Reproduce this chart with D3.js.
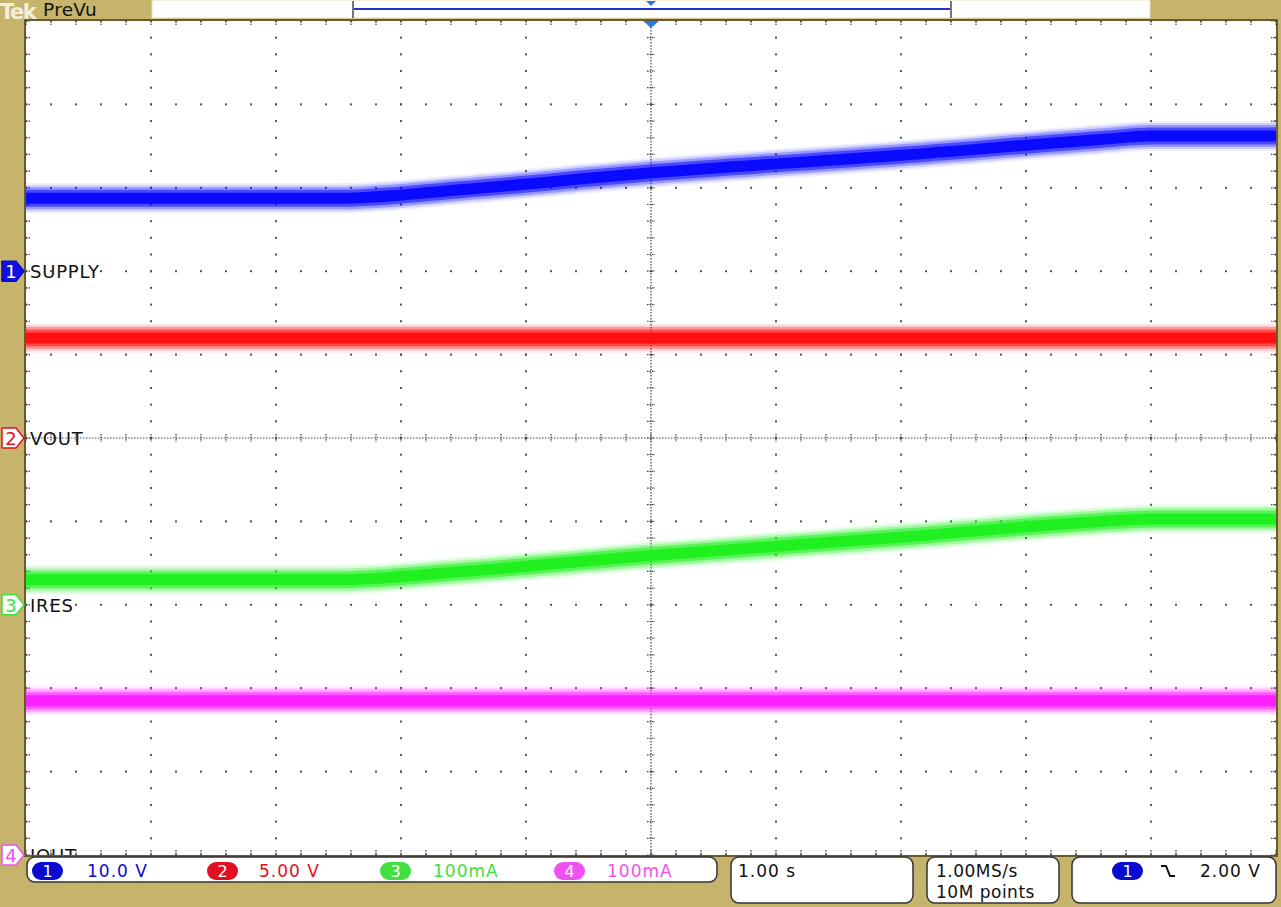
<!DOCTYPE html>
<html><head><meta charset="utf-8">
<script src="https://cdn.jsdelivr.net/npm/d3@7"></script>
<style>
body{margin:0;background:#C6B46D;}
svg{display:block;}
text{font-family:"DejaVu Sans",Verdana,sans-serif;}
</style>
</head><body><svg id="c" width="1281" height="907"></svg>
<script>
// ---- data ----
const timeBreaks = [-5, -2.5, -1.5, 0, 2, 3.6, 4.0, 5];          // seconds
const supplyVolts = [8.75, 8.75, 9.8, 11.8, 13.9, 15.8, 16.2, 16.2]; // CH1
const iresMilliamps = [30, 30, 40, 59, 81, 100, 103, 103];           // CH3
const flatTime = [-5, 5];
const voutVolts = [6.0, 6.0];                                         // CH2
const ioutMilliamps = [185, 185];                                     // CH4
const channelNames = ["SUPPLY", "VOUT", "IRES", "IOUT"];
const channelScaleLabels = ["10.0 V", "5.00 V", "100mA", "100mA"];
const unitsPerDiv = [10, 5, 100, 100];
const groundDiv = [2, 0, -2, -5];
const channelColors = ["#0a0aff", "#ff1010", "#20f020", "#ff20ff"];
const labelColors = ["#0a0ad0", "#e01020", "#40e040", "#f050f0"];
const timebaseLabel = "1.00 s";
const acqLabels = ["1.00MS/s", "10M points"];
const triggerLabel = "2.00 V";
const xDivs = 10, yDivs = 10;

// ---- layout ----
const svg = d3.select("#c");
const L = 26, R = 1276, T = 21, B = 855;
const x = d3.scaleLinear().domain([-xDivs/2, xDivs/2]).range([L, R]);
const y = d3.scaleLinear().domain([-yDivs/2, yDivs/2]).range([B, T]);

svg.append("rect").attr("width",1281).attr("height",907).attr("fill","#C6B46D");

// top bar
svg.append("text").attr("x",0).attr("y",19).attr("font-size",21).attr("font-weight","bold")
  .attr("fill","#f4eedc").attr("letter-spacing",-1.5).text("Tek");
svg.append("text").attr("x",43).attr("y",16).attr("font-size",18.5).attr("fill","#111").attr("letter-spacing",0.3).text("PreVu");
svg.append("rect").attr("x",152).attr("y",0).attr("width",998).attr("height",18).attr("fill","#fff")
  .attr("stroke","#e8e0b8").attr("stroke-width",1);
svg.append("line").attr("x1",353).attr("x2",951).attr("y1",9).attr("y2",9).attr("stroke","#2233cc").attr("stroke-width",2);
[353,951].forEach(xx=>svg.append("line").attr("x1",xx).attr("x2",xx).attr("y1",1).attr("y2",18).attr("stroke","#777").attr("stroke-width",2));
svg.append("path").attr("d",`M${x(0)-5},1 L${x(0)+5},1 L${x(0)},6 Z`).attr("fill","#2a7de0");

// plot area
svg.append("rect").attr("x",L-1).attr("y",T-1).attr("width",R-L+2).attr("height",B-T+2)
  .attr("fill","#fff").attr("stroke","#6b5a2a").attr("stroke-width",2);

const g = svg.append("g");
const dotCol = "#555";
const majX = d3.range(-xDivs/2, xDivs/2+0.001, 1);
const majY = d3.range(-yDivs/2, yDivs/2+0.001, 1);
const minX = d3.range(-xDivs/2, xDivs/2+0.001, 0.2);
const minY = d3.range(-yDivs/2, yDivs/2+0.001, 0.2);
majX.forEach(mx=>{ if (Math.abs(mx)<1e-6) return;
  minY.forEach(my=>g.append("rect").attr("x",x(mx)-1).attr("y",y(my)-1).attr("width",2).attr("height",2).attr("fill",dotCol));
});
majY.forEach(my=>{ if (Math.abs(my)<1e-6) return;
  minX.forEach(mx=>g.append("rect").attr("x",x(mx)-1).attr("y",y(my)-1).attr("width",2).attr("height",2).attr("fill",dotCol));
});
// center cross
g.append("line").attr("x1",L).attr("x2",R).attr("y1",y(0)).attr("y2",y(0)).attr("stroke","#444").attr("stroke-width",1.2).attr("stroke-dasharray","1.5,1.5");
g.append("line").attr("y1",T).attr("y2",B).attr("x1",x(0)).attr("x2",x(0)).attr("stroke","#444").attr("stroke-width",1.2).attr("stroke-dasharray","1.5,1.5");
minX.forEach(mx=>g.append("line").attr("x1",x(mx)).attr("x2",x(mx)).attr("y1",y(0)-4).attr("y2",y(0)+4).attr("stroke","#444").attr("stroke-width",1.2).attr("stroke-dasharray","1.5,1"));
minY.forEach(my=>g.append("line").attr("y1",y(my)).attr("y2",y(my)).attr("x1",x(0)-4).attr("x2",x(0)+4).attr("stroke","#444").attr("stroke-width",1.2).attr("stroke-dasharray","1.5,1"));
// edge ticks
minX.forEach(mx=>{
  g.append("line").attr("x1",x(mx)).attr("x2",x(mx)).attr("y1",T).attr("y2",T+5).attr("stroke","#444").attr("stroke-width",1.2).attr("stroke-dasharray","1.5,1");
  g.append("line").attr("x1",x(mx)).attr("x2",x(mx)).attr("y1",B-5).attr("y2",B).attr("stroke","#444").attr("stroke-width",1.2).attr("stroke-dasharray","1.5,1");
});
minY.forEach(my=>{
  g.append("line").attr("y1",y(my)).attr("y2",y(my)).attr("x1",L).attr("x2",L+5).attr("stroke","#444").attr("stroke-width",1.2).attr("stroke-dasharray","1.5,1");
  g.append("line").attr("y1",y(my)).attr("y2",y(my)).attr("x1",R-5).attr("x2",R).attr("stroke","#444").attr("stroke-width",1.2).attr("stroke-dasharray","1.5,1");
});

// clip
svg.append("clipPath").attr("id","pc").append("rect").attr("x",L).attr("y",T).attr("width",R-L+1).attr("height",B-T);
const tg = svg.append("g").attr("clip-path","url(#pc)");

const series = [
  {ch:0, t:timeBreaks, v:supplyVolts},
  {ch:1, t:flatTime, v:voutVolts},
  {ch:2, t:timeBreaks, v:iresMilliamps},
  {ch:3, t:flatTime, v:ioutMilliamps}
];
const layers = [{w:30,o:0.07},{w:26,o:0.14},{w:22,o:0.28},{w:17,o:0.55},{w:11,o:1}];
series.forEach(s=>{
  const pts = s.t.map((t,i)=>[t, groundDiv[s.ch] + s.v[i]/unitsPerDiv[s.ch]]);
  const line = d3.line().x(d=>x(d[0])).y(d=>y(d[1])).curve(d3.curveMonotoneX);
  layers.forEach(l=>tg.append("path").attr("d",line(pts)).attr("fill","none")
    .attr("stroke",channelColors[s.ch]).attr("stroke-width",l.w).attr("stroke-opacity",l.o));
});

// channel labels
channelNames.forEach((n,i)=>{
  tg.append("text").attr("x",30).attr("y",y(groundDiv[i])+7).attr("font-size",18).attr("fill","#111")
    .attr("letter-spacing",0.8).text(n);
});
// markers
channelNames.forEach((n,i)=>{
  const cy = y(groundDiv[i]);
  const mg = svg.append("g");
  const filled = i===0;
  mg.append("path").attr("d",`M2,${cy-8} Q1,${cy-10} 3,${cy-10} L16,${cy-10} L24,${cy} L16,${cy+10} L3,${cy+10} Q1,${cy+10} 2,${cy+8} Z`)
    .attr("fill", filled? "#1010e0" : "#fff").attr("stroke", labelColors[i]).attr("stroke-width",1.5);
  mg.append("text").attr("x",11).attr("y",cy+7).attr("text-anchor","middle").attr("font-size",18)
    .attr("fill", filled? "#fff" : labelColors[i]).text(i+1);
});

// trigger position marker
svg.append("path").attr("d",`M${x(0)-8},${T} L${x(0)+8},${T} L${x(0)},${T+7} Z`).attr("fill","#2a7de0");

// bottom panels
function panel(x0,y0,w,h){
  svg.append("rect").attr("x",x0).attr("y",y0).attr("width",w).attr("height",h).attr("rx",8)
    .attr("fill","#fff").attr("stroke","#333").attr("stroke-width",1.5);
}
panel(27,857,690,25);
panel(731,857,182,46);
panel(927,857,132,46);
panel(1072,857,204,46);

const pillX = [32, 207, 380, 554], txtX = [87, 259, 433, 607];
channelScaleLabels.forEach((s,i)=>{
  svg.append("rect").attr("x",pillX[i]).attr("y",862).attr("width",31).attr("height",18).attr("rx",9)
    .attr("fill", labelColors[i]);
  svg.append("text").attr("x",pillX[i]+15.5).attr("y",877).attr("text-anchor","middle").attr("font-size",16).attr("fill","#fff").text(i+1);
  svg.append("text").attr("x",txtX[i]).attr("y",877).attr("font-size",17).attr("letter-spacing",1).attr("fill",labelColors[i]).text(s);
});
svg.append("text").attr("x",738).attr("y",877).attr("font-size",17).attr("letter-spacing",1).attr("fill","#111").text(timebaseLabel);
acqLabels.forEach((s,i)=>svg.append("text").attr("x",936).attr("y",877+21*i).attr("font-size",17).attr("letter-spacing",0.5).attr("fill","#111").text(s));
svg.append("rect").attr("x",1112).attr("y",862).attr("width",31).attr("height",18).attr("rx",9).attr("fill",labelColors[0]);
svg.append("text").attr("x",1127.5).attr("y",877).attr("text-anchor","middle").attr("font-size",16).attr("fill","#fff").text("1");
svg.append("path").attr("d","M1161,866 L1166,866 L1170,876 L1175,876").attr("fill","none").attr("stroke","#111").attr("stroke-width",2);
svg.append("text").attr("x",1200).attr("y",877).attr("font-size",17).attr("letter-spacing",1).attr("fill","#111").text(triggerLabel);
</script></body></html>
